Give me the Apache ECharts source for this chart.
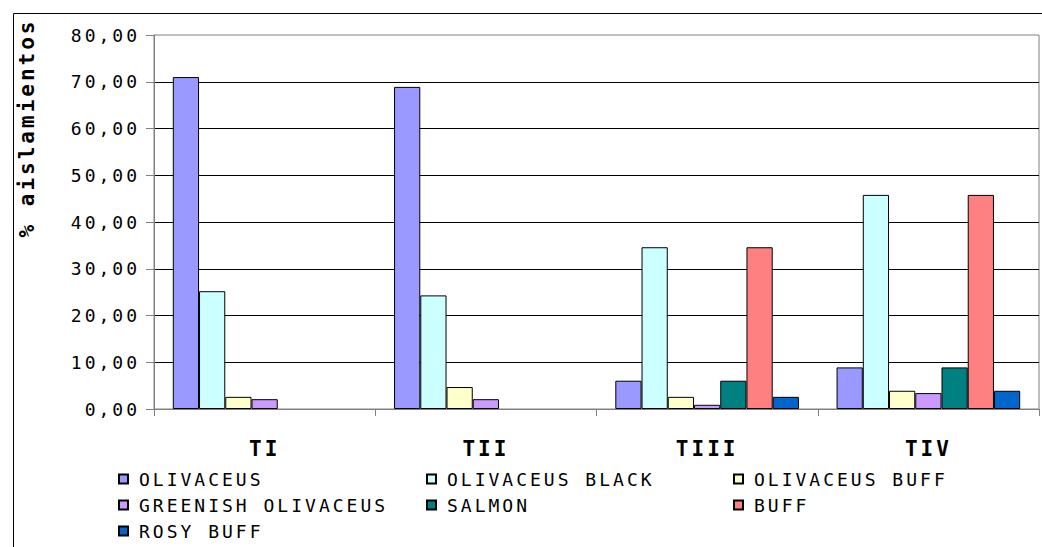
<!DOCTYPE html>
<html>
<head>
<meta charset="utf-8">
<script src="https://cdn.jsdelivr.net/npm/echarts@6/dist/echarts.min.js"></script>
<style>
  html, body { margin: 0; padding: 0; background: #fff; }
  #chart { width: 1042px; height: 547px; }
  /* the original text is drawn wide, so spread the letters */
  #chart text { letter-spacing: 3px; }
</style>
</head>
<body>
<div id="chart"></div>
<script>
const categories = ['TI', 'TII', 'TIII', 'TIV']
const seriesNames = ['OLIVACEUS', 'OLIVACEUS BLACK', 'OLIVACEUS BUFF', 'GREENISH OLIVACEUS', 'SALMON', 'BUFF', 'ROSY BUFF']
const olivaceus = [71.0, 68.9, 6.05, 8.9]
const olivaceusBlack = [25.2, 24.3, 34.6, 45.8]
const olivaceusBuff = [2.6, 4.7, 2.6, 3.9]
const greenishOlivaceus = [2.1, 2.1, 0.9, 3.4]
const salmon = [0, 0, 6.05, 8.9]
const buff = [0, 0, 34.6, 45.8]
const rosyBuff = [0, 0, 2.6, 3.9]
const colors = ['#9999ff', '#ccffff', '#ffffcc', '#cc99ff', '#008080', '#ff8080', '#0066cc']

const values = [olivaceus, olivaceusBlack, olivaceusBuff, greenishOlivaceus, salmon, buff, rosyBuff]
const font = 'DejaVu Sans Mono'

const chart = echarts.init(document.getElementById('chart'), null, { renderer: 'svg' })

const legendCol = (left, names) => ({
  orient: 'vertical',
  left: left,
  top: 470,
  padding: 0,
  itemGap: 8,
  itemWidth: 9,
  itemHeight: 9,
  icon: 'rect',
  data: names,
  textStyle: { fontFamily: font, fontSize: 18, color: '#000', lineHeight: 18, padding: [0, 0, 0, 6] }
})

chart.setOption({
  animation: false,
  textStyle: { fontFamily: font },
  color: colors,
  grid: {
    left: 154, top: 35, right: 3, bottom: 138,
    show: true, borderColor: '#808080', borderWidth: 1
  },
  graphic: [
    {
      type: 'rect', left: 11, top: 11, silent: true,
      shape: { width: 1040, height: 540 },
      style: { fill: null, stroke: '#000', lineWidth: 1 }
    },
    {
      type: 'text', x: 27, y: 128, rotation: Math.PI / 2,
      style: {
        text: '% aislamientos', fontFamily: font, fontSize: 21, fontWeight: 'bold',
        fill: '#000', align: 'center', verticalAlign: 'middle'
      }
    }
  ],
  legend: [
    legendCol(118, ['OLIVACEUS', 'GREENISH OLIVACEUS', 'ROSY BUFF']),
    legendCol(426, ['OLIVACEUS BLACK', 'SALMON']),
    legendCol(733, ['OLIVACEUS BUFF', 'BUFF'])
  ],
  xAxis: {
    type: 'category',
    data: categories,
    axisLine: { lineStyle: { color: '#808080' } },
    axisTick: { show: true, length: 7, lineStyle: { color: '#808080' } },
    axisLabel: { color: '#000', fontSize: 21, fontWeight: 'bold', margin: 29 }
  },
  yAxis: {
    type: 'value',
    min: 0,
    max: 80,
    interval: 10,
    axisLine: { show: true, lineStyle: { color: '#808080' } },
    axisTick: { show: true, length: 8, lineStyle: { color: '#808080' } },
    axisLabel: {
      color: '#000', fontSize: 18, margin: 14,
      formatter: v => v.toFixed(2).replace('.', ',')
    },
    splitLine: { show: true, showMinLine: false, showMaxLine: false, lineStyle: { color: '#000', width: 1 } }
  },
  series: seriesNames.map((name, i) => ({
    name: name,
    type: 'bar',
    barGap: '0%',
    barCategoryGap: '17%',
    data: values[i].map(v => (v === 0 ? '-' : v)),
    itemStyle: { color: colors[i], borderColor: '#000', borderWidth: 1 }
  }))
})
</script>
</body>
</html>
